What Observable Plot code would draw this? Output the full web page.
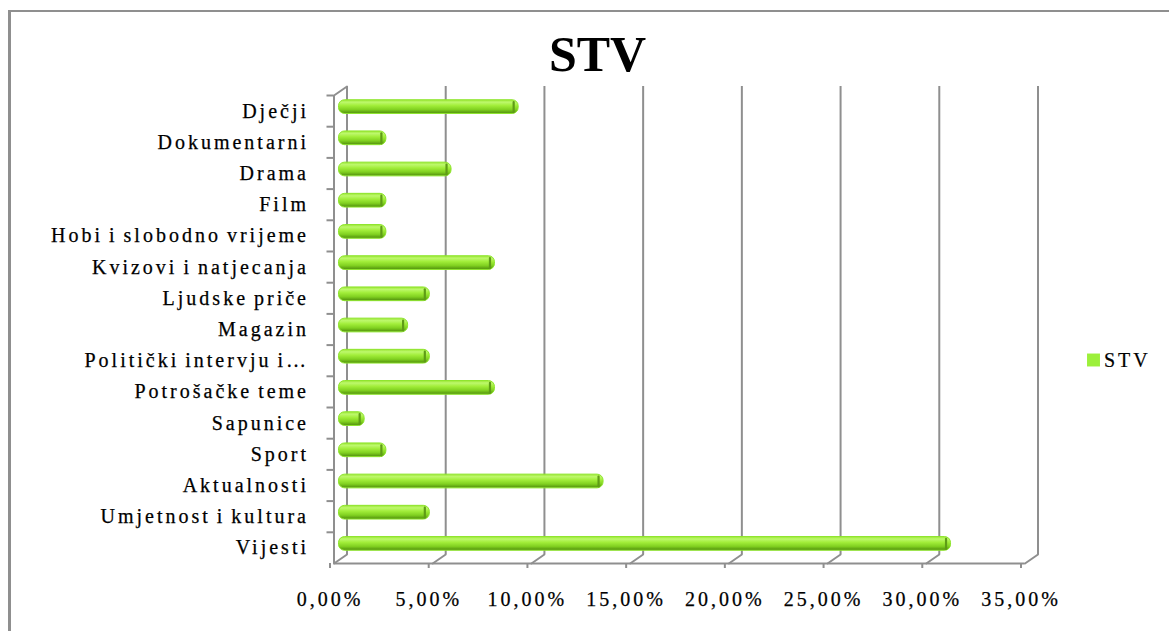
<!DOCTYPE html>
<html>
<head>
<meta charset="utf-8">
<script src="https://cdn.jsdelivr.net/npm/d3@7"></script>
<script src="https://cdn.jsdelivr.net/npm/@observablehq/plot@0.6"></script>
<style>
html, body { margin: 0; padding: 0; background: #fff; overflow: hidden; }
#wrap { position: relative; width: 1169px; height: 631px; overflow: hidden; }
#border { position: absolute; left: 8px; top: 10px; width: 1300px; height: 800px;
  border-left: 3px solid #8f8f8f; border-top: 2px solid #8f8f8f; box-sizing: border-box; }
#chart { position: absolute; left: 0; top: 0; }
#chart svg, #chart svg text { font-family: "Liberation Serif", "Times New Roman", serif !important; }
g[aria-label="y-axis tick label"] text { letter-spacing: 3px; word-spacing: -2px; stroke: #000; stroke-width: 0.25px; }
g[aria-label="x-axis tick label"] text { letter-spacing: 3px; stroke: #000; stroke-width: 0.25px; }
.legend-text text { letter-spacing: 3px; stroke: #000; stroke-width: 0.2px; }
</style>
</head>
<body>
<div id="wrap"><div id="border"></div><div id="chart"></div></div>
<script>
// ---- data ----
const categories = [
  "Dječji", "Dokumentarni", "Drama", "Film", "Hobi i slobodno vrijeme",
  "Kvizovi i natjecanja", "Ljudske priče", "Magazin", "Politički intervju i…",
  "Potrošačke teme", "Sapunice", "Sport", "Aktualnosti", "Umjetnost i kultura", "Vijesti"
];
const values = [0.091, 0.024, 0.057, 0.024, 0.024, 0.079, 0.046, 0.035, 0.046, 0.079, 0.013, 0.024, 0.134, 0.046, 0.310];
const xTicks = [0, 0.05, 0.10, 0.15, 0.20, 0.25, 0.30, 0.35];
const xTickLabels = ["0,00%", "5,00%", "10,00%", "15,00%", "20,00%", "25,00%", "30,00%", "35,00%"];
const seriesName = "STV";
const chartTitle = "STV";

const rows = categories.map((name, i) => ({name, value: values[i], i}));
const centers = categories.map((_, i) => i + 0.5);
const boundaries = categories.map((_, i) => i);

const FONT = "Liberation Serif";
const GRID = "#8f8f8f";
const lineShape = { draw(context, l) { context.moveTo(0, 0); context.lineTo(0, -l); } };
const depth = { rotate: 55.3, length: 15.8 }; // back-wall offset (13px right, 9px up)
const half = 0.22; // half bar thickness in band units

const gradient = () => {
  const defs = d3.create("svg:defs");
  const g = defs.append("linearGradient").attr("id", "cyl")
    .attr("x1", 0).attr("y1", 0).attr("x2", 0).attr("y2", 1);
  [[0, "#9ae632"], [0.18, "#bdf86c"], [0.42, "#a2ee3a"], [0.72, "#80d020"], [1, "#4f8d0c"]]
    .forEach(([o, c]) => g.append("stop").attr("offset", o).attr("stop-color", c));
  return defs.node();
};

const plot = Plot.plot({
  width: 1169,
  height: 631,
  marginLeft: 333.5,
  marginRight: 144.5,
  marginTop: 95,
  marginBottom: 68,
  style: { fontFamily: FONT, background: "transparent", color: "black", overflow: "visible" },
  x: { domain: [0, 0.35] },
  y: { domain: [0, 15], reverse: true },
  marks: [
    gradient,
    // back wall gridlines
    Plot.ruleX(xTicks, { x: d => d, dx: 13, dy: -9, stroke: GRID, strokeWidth: 2 }),
    // floor connectors
    Plot.vector(xTicks, { x: d => d, y: 15, ...depth, anchor: "start", shape: lineShape, stroke: GRID, strokeWidth: 2 }),
    Plot.vector([0], { x: 0, y: 0, ...depth, anchor: "start", shape: lineShape, stroke: GRID, strokeWidth: 2 }),
    // front left axis line and floor
    Plot.ruleX([0], { stroke: GRID, strokeWidth: 2 }),
    Plot.ruleY([15], { stroke: GRID, strokeWidth: 2 }),
    // boundary ticks on the category axis
    Plot.axisY(boundaries, { anchor: "left", tickSize: 7, tickFormat: () => "", label: null, stroke: GRID, strokeWidth: 2 }),
    // category labels
    Plot.axisY(centers, {
      anchor: "left", tickSize: 0, tickPadding: 25, fontSize: 20, fill: "black", label: null,
      tickFormat: d => categories[Math.round(d - 0.5)], dy: 0
    }),
    // x axis
    Plot.axisX(xTicks, {
      anchor: "bottom", tickSize: 5, tickPadding: 23, fontSize: 20, fill: "black", label: null,
      stroke: GRID, strokeWidth: 2, dx: -4,
      tickFormat: d => xTickLabels[xTicks.indexOf(d)]
    }),
    // cylinder bars
    Plot.rect(rows, {
      x1: 0, x2: "value", y1: d => d.i + 0.5 - half, y2: d => d.i + 0.5 + half,
      dx: 5, dy: -4, rx: 6, fill: "url(#cyl)", stroke: "#8ee52c", strokeWidth: 1
    }),
    // cylinder end caps
    Plot.vector(rows, {
      x: "value", y: d => d.i + 0.5, dx: 0, dy: -4, rotate: 0, length: 10, anchor: "middle",
      shape: lineShape, stroke: "#5e9c16", strokeWidth: 2.2
    }),
    // title
    Plot.text([chartTitle], {
      frameAnchor: "top", dx: -82, dy: -25, lineAnchor: "bottom", fontSize: 50,
      fontWeight: "bold", fill: "black"
    }),
    // legend
    Plot.dot([seriesName], { frameAnchor: "right", dx: 68.5, dy: 30.5, symbol: "square", r: 7.3, fill: "#9cf03a" }),
    Plot.text([seriesName], {
      frameAnchor: "right", dx: 79, dy: 31, textAnchor: "start", fontSize: 20, fill: "black",
      className: "legend-text"
    })
  ]
});
document.getElementById("chart").appendChild(plot);
</script>
</body>
</html>
